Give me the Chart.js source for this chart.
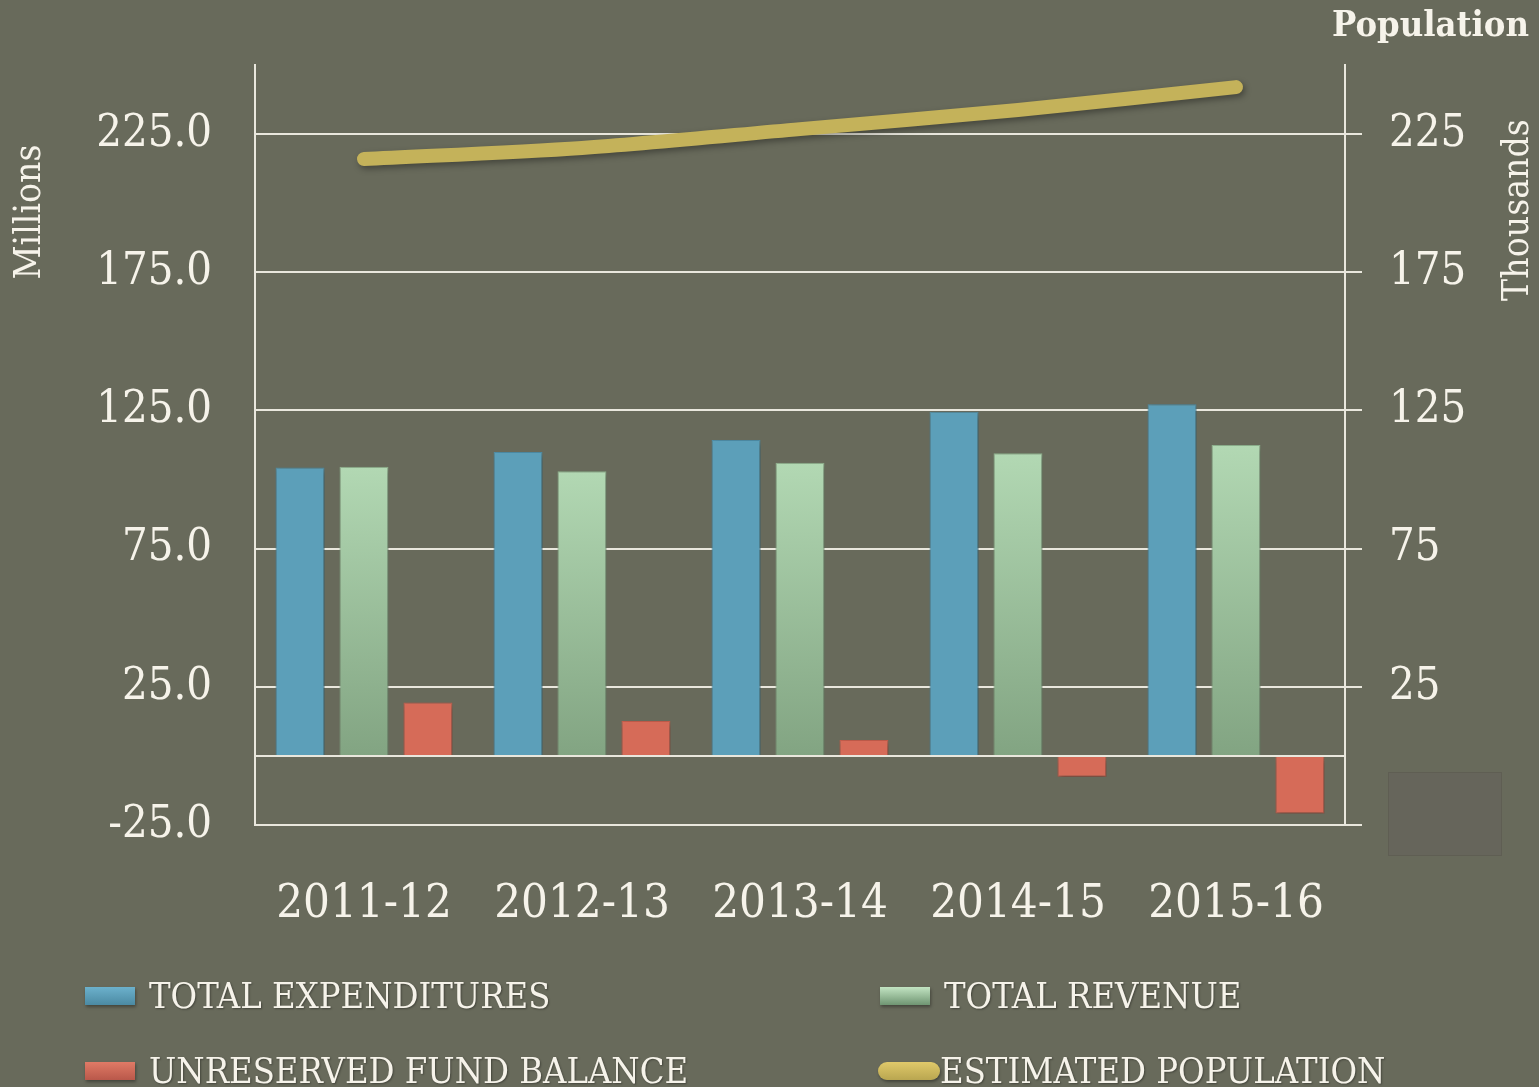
<!DOCTYPE html>
<html>
<head>
<meta charset="utf-8">
<script src="https://cdn.jsdelivr.net/npm/chart.js@4.4.0/dist/chart.umd.min.js"></script>
<style>
  html, body { margin: 0; padding: 0; background: #686a5b; overflow: hidden; }
  #wrap { position: relative; width: 1539px; height: 1087px; }
  #legend { position: absolute; left: 0; top: 0; width: 1539px; height: 1087px; pointer-events: none; }
  .item { position: absolute; display: flex; align-items: center; color: #f6f3ea;
    font-family: 'DejaVu Serif Condensed', 'DejaVu Serif', serif; font-size: 36px;
    text-shadow: 1px 1px 2px rgba(0,0,0,.35); white-space: nowrap; }
  .sw { display: inline-block; width: 50px; height: 18px; margin-right: 14px;
    box-shadow: 1px 2px 3px rgba(0,0,0,.35); }
  .sw.pill { width: 62px; height: 18px; border-radius: 9px; margin-right: 0; }
  #ghost { position: absolute; left: 1388px; top: 772px; width: 112px; height: 82px;
    background: #66655b; border: 1px solid rgba(90,90,78,.6); }
</style>
</head>
<body>
<div id="wrap">
  <canvas id="chart" width="1539" height="1087"></canvas>
  <div id="ghost"></div>
  <div id="legend"></div>
</div>
<script>
// Fiscal years
const years = ['2011-12', '2012-13', '2013-14', '2014-15', '2015-16'];
// Millions of dollars
const expenditures = [104.4, 110.0, 114.3, 124.5, 127.2];
const revenue = [104.6, 103.0, 106.1, 109.5, 112.5];
const fundBalance = [19.3, 12.6, 5.8, -7.5, -20.8];
// Thousands of people
const population = [216.0, 220.0, 226.8, 233.7, 242.0];
// Tick labels
const leftTicks = [-25, 0, 25, 75, 125, 175, 225];
const rightTicks = [-25, 25, 75, 125, 175, 225];

const textColor = '#f6f3ea';
const lineColor = '#e9e7dd';
const serif = "'DejaVu Serif Condensed', 'DejaVu Serif', serif";

// vertical gradient for each revenue bar
const greenFill = (context) => {
  const c = context.chart;
  if (!c.chartArea) return '#9cc29d';
  const v = context.raw;
  const yTop = c.scales.y.getPixelForValue(v);
  const yBase = c.scales.y.getPixelForValue(0);
  const g = c.ctx.createLinearGradient(0, yTop, 0, yBase);
  g.addColorStop(0, '#b2d8b3');
  g.addColorStop(1, '#82a482');
  return g;
};

const barShadow = {
  id: 'barShadow',
  beforeDatasetDraw(c) {
    c.ctx.save();
    c.ctx.shadowColor = 'rgba(0,0,0,0.35)';
    c.ctx.shadowBlur = 6;
    c.ctx.shadowOffsetX = 2;
    c.ctx.shadowOffsetY = 3;
  },
  afterDatasetDraw(c) {
    c.ctx.restore();
  },
};

const axisTitles = {
  id: 'axisTitles',
  afterDraw(c) {
    const { ctx } = c;
    ctx.save();
    ctx.fillStyle = textColor;
    ctx.textAlign = 'center';
    ctx.textBaseline = 'middle';
    ctx.font = `37px ${serif}`;
    ctx.save();
    ctx.translate(30, 212);
    ctx.rotate(-Math.PI / 2);
    ctx.fillText('Millions', 0, 0);
    ctx.restore();
    ctx.save();
    ctx.translate(1518, 210);
    ctx.rotate(-Math.PI / 2);
    ctx.fillText('Thousands', 0, 0);
    ctx.restore();
    ctx.font = `bold 36px ${serif}`;
    ctx.textAlign = 'right';
    ctx.fillText('Population', 1529, 27);
    ctx.restore();
  },
};

const ctx = document.getElementById('chart');
const chart = new Chart(ctx, {
  type: 'bar',
  data: {
    labels: years,
    datasets: [
      {
        type: 'line',
        label: 'ESTIMATED POPULATION',
        data: population,
        yAxisID: 'y1',
        borderColor: '#c4b25a',
        borderWidth: 14,
        borderCapStyle: 'round',
        borderJoinStyle: 'round',
        pointRadius: 0,
        tension: 0.3,
        order: 0,
      },
      {
        label: 'TOTAL EXPENDITURES',
        data: expenditures,
        backgroundColor: '#5c9fb9',
        borderColor: '#4f8ea8',
        borderWidth: 1,
        order: 1,
      },
      {
        label: 'TOTAL REVENUE',
        data: revenue,
        backgroundColor: greenFill,
        borderColor: '#8fb38f',
        borderWidth: 1,
        order: 1,
      },
      {
        label: 'UNRESERVED FUND BALANCE',
        data: fundBalance,
        backgroundColor: '#d66b58',
        borderColor: '#c55e4c',
        borderWidth: 1,
        order: 1,
      },
    ],
  },
  options: {
    responsive: false,
    animation: false,
    datasets: {
      bar: {
        barPercentage: 0.766,
        categoryPercentage: 0.88,
      },
    },
    layout: {
      padding: { top: 65, left: 0, right: 0, bottom: 0 },
    },
    scales: {
      x: {
        grid: { display: false },
        border: { display: false },
        ticks: {
          color: textColor,
          font: { family: serif, size: 47 },
          padding: 44,
        },
        afterFit: (s) => { s.height = 262; },
      },
      y: {
        position: 'left',
        min: -25,
        max: 250,
        afterBuildTicks: (s) => { s.ticks = leftTicks.map((v) => ({ value: v })); },
        grid: { color: lineColor, lineWidth: 2, drawTicks: false },
        border: { color: lineColor, width: 2 },
        ticks: {
          color: textColor,
          font: { family: serif, size: 45 },
          padding: 43,
          callback: (v) => (v === 0 ? '' : v.toFixed(1)),
        },
        afterFit: (s) => {
          s.width = 255;
          s.paddingTop = 0;
          s.paddingBottom = 0;
        },
      },
      y1: {
        position: 'right',
        min: -25,
        max: 250,
        afterBuildTicks: (s) => { s.ticks = rightTicks.map((v) => ({ value: v })); },
        grid: { drawOnChartArea: false, color: lineColor, lineWidth: 2, tickLength: 17 },
        border: { color: lineColor, width: 2 },
        ticks: {
          color: textColor,
          font: { family: serif, size: 45 },
          padding: 27,
          callback: (v) => (v === -25 ? '' : String(v)),
        },
        afterFit: (s) => {
          s.width = 194;
          s.paddingTop = 0;
          s.paddingBottom = 0;
        },
      },
    },
    plugins: {
      legend: { display: false },
      tooltip: { enabled: false },
    },
  },
  plugins: [barShadow, axisTitles],
});

// HTML legend, two columns
const legendPos = [
  { left: 85, top: 975 },
  { left: 880, top: 975 },
  { left: 85, top: 1050 },
  { left: 878, top: 1050 },
];
const legendOrder = [1, 2, 3, 0];
const swatches = [
  'linear-gradient(#e0c96a, #b9a650)',
  'linear-gradient(#6cb1cc, #4b8aa3)',
  'linear-gradient(#c2e4c2, #6f9572)',
  'linear-gradient(#e07a66, #b9584a)',
];
const legendEl = document.getElementById('legend');
legendOrder.forEach((di, i) => {
  const item = document.createElement('div');
  item.className = 'item';
  item.style.left = `${legendPos[i].left}px`;
  item.style.top = `${legendPos[i].top}px`;
  const sw = document.createElement('span');
  sw.className = di === 0 ? 'sw pill' : 'sw';
  sw.style.background = swatches[di];
  const label = document.createElement('span');
  label.textContent = chart.data.datasets[di].label;
  item.appendChild(sw);
  item.appendChild(label);
  legendEl.appendChild(item);
});
</script>
</body>
</html>
